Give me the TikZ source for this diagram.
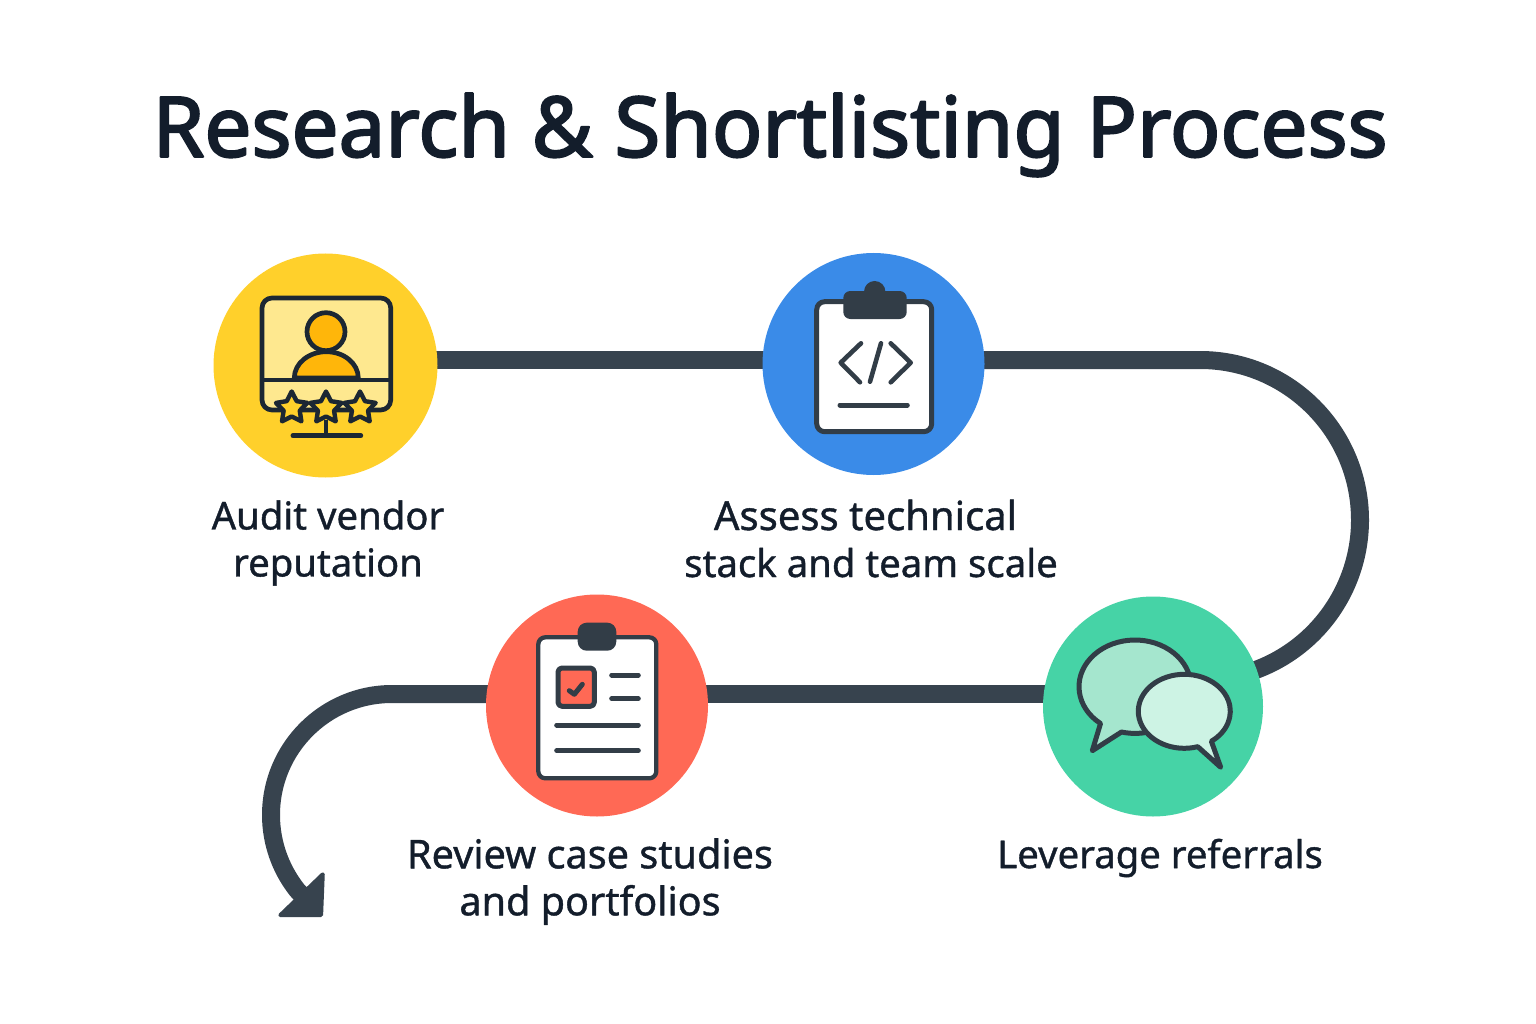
\documentclass[tikz,border=0pt]{standalone}
\usepackage{fontspec}
\setmainfont{Noto Sans}
\newfontfamily\titlefont[FakeBold=2.5]{Noto Sans}
\newfontfamily\labelfont[FakeBold=1]{Noto Sans}
\usetikzlibrary{arrows.meta}
\usetikzlibrary{shapes.geometric}
\usetikzlibrary{backgrounds}
\definecolor{inkdark}{HTML}{131D2B}
\definecolor{pipegray}{HTML}{37434E}
\definecolor{iconslate}{HTML}{323D47}
\definecolor{iconline}{HTML}{1C2733}
\definecolor{sunyellow}{HTML}{FFD02B}
\definecolor{paleyellow}{HTML}{FEE88F}
\definecolor{amber}{HTML}{FFB60A}
\definecolor{skyblue}{HTML}{3A8BE8}
\definecolor{coral}{HTML}{FF6955}
\definecolor{mint}{HTML}{46D3A6}
\definecolor{midmint}{HTML}{A5E6CE}
\definecolor{palemint}{HTML}{CDF3E4}
\tikzset{
  disc/.style={circle,inner sep=0pt,minimum size=#1},
  pipe/.style={draw=pipegray,line width=18pt},
  steplabel/.style={text=inkdark,align=center,font=\labelfont\fontsize{38.3}{47}\selectfont},
  iconpen/.style={draw=iconslate,line width=5pt,line cap=round,line join=round},
  ratestar/.style={star,star points=5,star point ratio=1.95,inner sep=0pt,minimum size=33pt,draw=iconline,line width=4.4pt,fill=sunyellow,line join=round}
}
\begin{document}
\begin{tikzpicture}[line cap=butt,line join=round,x=1pt,y=1pt,yscale=-1]
\useasboundingbox (0,0) rectangle (1536,1024);
\node (title) at (770,135) [text=inkdark,font=\titlefont\fontsize{83.5}{90}\selectfont] {Research \& Shortlisting Process};
\node [disc=224pt,fill=sunyellow] (audit) at (325.5,365.5) {};
\node [disc=222pt,fill=skyblue] (assess) at (873.5,364) {};
\node [disc=220pt,fill=mint] (referrals) at (1153,706.5) {};
\node [disc=222pt,fill=coral] (review) at (597,705.5) {};
\node [steplabel] (auditlabel) at (328,543) {Audit vendor\\reputation};
\node [steplabel] (assesslabel) at (871,538.5) {{\fontsize{40}{47}\selectfont Assess technical}\hspace*{11pt}\\stack and team scale};
\node [steplabel,font=\labelfont\fontsize{39.6}{47}\selectfont] (reviewlabel) at (590,881.5) {Review case studies\\and portfolios};
\node [steplabel] (referralslabel) at (1160,858) {Leverage referrals};
\begin{pgfonlayer}{background}
\draw[pipe] ([yshift=-5.5pt]audit.center)--([yshift=-4pt]assess.center);
\draw[pipe] ([yshift=-4pt]assess.center)--(1200,360) arc (-90:72:160)--(referrals.center);
\draw[pipe] ([yshift=-12.5pt]referrals.center)--([yshift=-11.5pt]review.center);
\coordinate (pipeend) at (322.5,916.5);
\draw[pipe,-{Triangle[length=33pt,width=68pt,line width=4pt,round]}] ([yshift=-11.5pt]review.center)--(392,694) arc (-90:-218.5:121)--(pipeend);
\end{pgfonlayer}
% monitor
\draw[draw=iconline,line width=4.7pt,fill=paleyellow,rounded corners=10pt] (262,298) rectangle (390.7,410);
\draw[draw=iconline,line width=4.7pt,fill=amber] (294.3,378) arc (180:360:32 and 26.3)--cycle;
\draw[draw=iconline,line width=4.7pt,fill=amber] (326,331.7) circle (19);
\draw[draw=iconline,line width=4pt] (262,380)--(390.7,380);
\draw[draw=iconline,line width=4.7pt] (326,420)--(326,435.7);
\draw[draw=iconline,line width=5pt,line cap=round] (293,435.7)--(360.7,435.7);
\foreach \i/\sx in {1/291.7,2/326,3/360}
  \node [ratestar] (star\i) at (\sx,408) {};
% code sheet
\draw[iconpen,fill=white,rounded corners=8pt] (816.7,301.7) rectangle (931.7,431.7);
\fill[iconslate] (874.7,291.7) circle (10.7);
\fill[iconslate,rounded corners=7pt] (843.3,291) rectangle (906.7,319);
\draw[iconpen,line width=4.6pt] (861,343.3)--(840.7,362.7)--(860,382.3);
\draw[iconpen,line width=4.6pt] (890.7,343.3)--(910.7,362.7)--(890.7,382.3);
\draw[iconpen,line width=4.6pt] (881,343.3)--(870,381.7);
\draw[iconpen] (840,405)--(907.3,405);
% checklist
\draw[iconpen,line width=4.3pt,fill=white,rounded corners=7pt] (538.3,637.3) rectangle (656.3,778.3);
\fill[iconslate,rounded corners=9pt] (577.7,622.7) rectangle (616.3,650.7);
\draw[iconpen,fill=coral,rounded corners=4pt] (558,668) rectangle (594.3,706.3);
\draw[iconpen,line width=5pt] (569.3,690.7)--(574.3,694.3)--(582.3,684.3);
\foreach \ly in {675,698.7}
  \draw[iconpen] (611.7,\ly)--(638.3,\ly);
\foreach \ly in {725,750.7}
  \draw[iconpen] (556.7,\ly)--(638.3,\ly);
% bubbles
\draw[iconpen,fill=midmint] (1135,686.7) ++(128:56 and 46.7) arc (128:464:56 and 46.7)--(1092.3,750.7)--cycle;
\draw[iconpen,fill=palemint] (1184.3,711.3) ++(73:46 and 37) arc (73:414:46 and 37)--(1220.7,767.3)--cycle;
\end{tikzpicture}
\end{document}
